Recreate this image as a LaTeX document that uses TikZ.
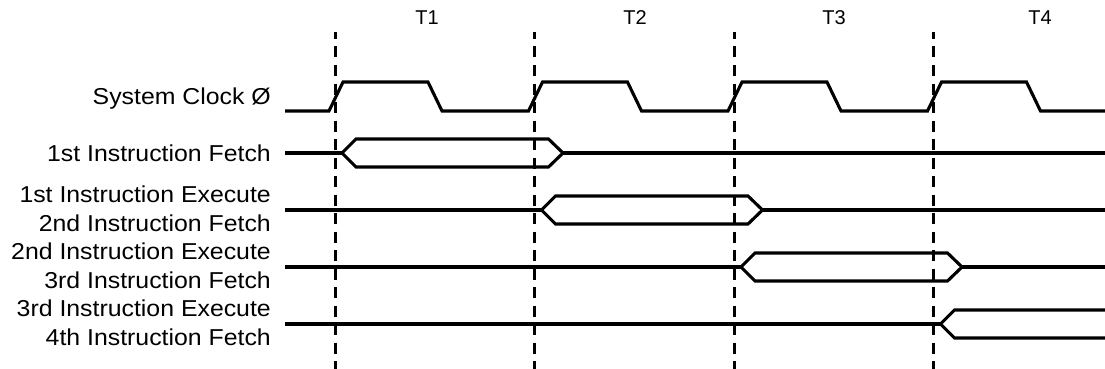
\documentclass[tikz,border=0pt]{standalone}
\usepackage{fontspec}
\setmainfont{Liberation Sans}
\newfontfamily\widesans[FakeStretch=1.08]{Liberation Sans}

\tikzset{
  wave/.style={line width=3.1pt, line join=miter},
  tick/.style={line width=3pt, dash pattern=on 11pt off 7.5pt, dash phase=4pt},
  rowlabel/.style={anchor=east, align=right, inner sep=0pt, font=\widesans\fontsize{23}{29}\selectfont},
  period/.style={inner sep=0pt, font=\fontsize{20}{24}\selectfont}
}

\begin{document}
\begin{tikzpicture}[x=1pt,y=-1pt]
    \useasboundingbox (0,0) rectangle (1105,369);

    % clock periods
    \node[period] (T1) at (427,18) {T1};
    \node[period] (T2) at (635,18) {T2};
    \node[period] (T3) at (834,18) {T3};
    \node[period] (T4) at (1040,18) {T4};

    % signal names
    \node[rowlabel] (CLK) at (271,98.5) {System Clock Ø};
    \node[rowlabel] (F1) at (271,153.5) {1st Instruction Fetch};
    \node[rowlabel] (EF2) at (271,209) {1st Instruction Execute\\2nd Instruction Fetch};
    \node[rowlabel] (EF3) at (271,266) {2nd Instruction Execute\\3rd Instruction Fetch};
    \node[rowlabel] (EF4) at (271,323) {3rd Instruction Execute\\4th Instruction Fetch};

    % period boundaries
    \draw[tick] (335.5,32) -- (335.5,369);
    \draw[tick] (534.5,32) -- (534.5,369);
    \draw[tick] (734.5,32) -- (734.5,369);
    \draw[tick] (933.5,32) -- (933.5,369);

    % system clock
    \draw[wave] (285,111) -- (329,111) -- (343,82) -- (428,82) -- (442,111)
      -- (528.5,111) -- (542.5,82) -- (627.5,82) -- (641.5,111)
      -- (728,111) -- (742,82) -- (827,82) -- (841,111)
      -- (927.5,111) -- (941.5,82) -- (1026.5,82) -- (1040.5,111) -- (1105,111);

    % 1st fetch
    \draw[wave] (285,153) -- (342,153);
    \draw[wave] (342,153) -- (356,139) -- (548.5,139) -- (563,153) -- (548.5,167) -- (356,167) -- cycle;
    \draw[wave] (563,153) -- (1105,153);

    % 1st execute, 2nd fetch
    \draw[wave] (285,210) -- (541.5,210);
    \draw[wave] (541.5,210) -- (555.5,196) -- (748,196) -- (762.5,210) -- (748,224) -- (555.5,224) -- cycle;
    \draw[wave] (762.5,210) -- (1105,210);

    % 2nd execute, 3rd fetch
    \draw[wave] (285,267) -- (741,267);
    \draw[wave] (741,267) -- (755,253) -- (947.5,253) -- (962,267) -- (947.5,281) -- (755,281) -- cycle;
    \draw[wave] (962,267) -- (1105,267);

    % 3rd execute, 4th fetch
    \draw[wave] (285,324) -- (940.5,324);
    \draw[wave] (1105,310) -- (954.5,310) -- (940.5,324) -- (954.5,338) -- (1105,338);
\end{tikzpicture}
\end{document}
